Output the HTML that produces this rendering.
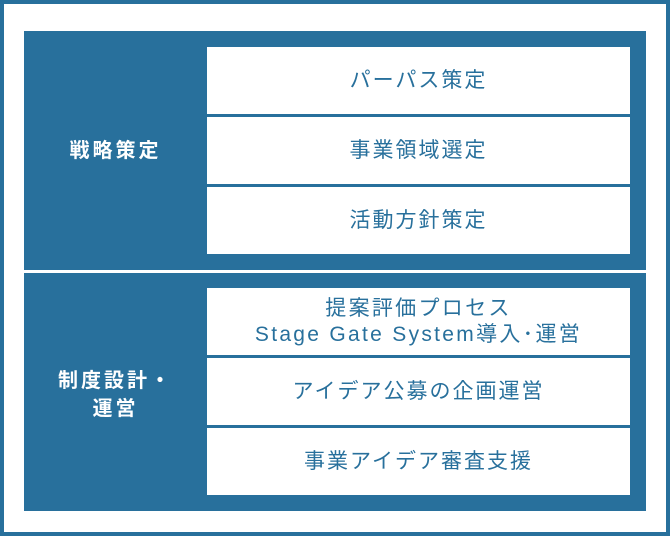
<!DOCTYPE html>
<html><head><meta charset="utf-8"><style>
body{margin:0;width:670px;height:536px;background:#fff;position:relative;overflow:hidden;font-family:"Liberation Sans","Noto Sans CJK JP",sans-serif}
.o{position:absolute;left:0;top:0;width:662px;height:528px;border:4px solid #28709c}
.p{position:absolute;left:24px;width:622px;background:#28709c}
.b{position:absolute;left:207px;width:423px;height:67px;background:#fff;color:#28709c;font-size:21px;letter-spacing:2px;display:flex;align-items:center;justify-content:center;text-align:center;line-height:26px}
.l{position:absolute;left:24px;width:183px;color:#fff;font-weight:bold;font-size:20px;letter-spacing:3px;text-align:center;line-height:28px}
</style></head><body>
<div class="o"></div>
<div class="p" style="top:31px;height:239px"></div>
<div class="p" style="top:273px;height:238px"></div>
<div class="l" style="top:137px">戦略策定</div>
<div class="l" style="top:367px">制度設計・<br>運営</div>
<div class="b" style="top:47px">パーパス策定</div>
<div class="b" style="top:117px">事業領域選定</div>
<div class="b" style="top:187px">活動方針策定</div>
<div class="b" style="top:288px;letter-spacing:2.3px">提案評価プロセス<br>Stage Gate System導入･運営</div>
<div class="b" style="top:358px">アイデア公募の企画運営</div>
<div class="b" style="top:428px">事業アイデア審査支援</div>
</body></html>
